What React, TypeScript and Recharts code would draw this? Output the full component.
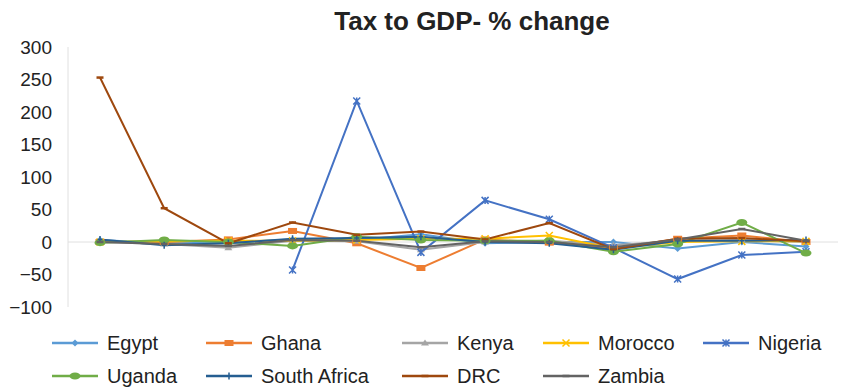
import { LineChart, Line, XAxis, YAxis, ReferenceLine } from "recharts";

const YEARS = ["2000", "2001", "2002", "2003", "2004", "2005", "2006", "2007", "2008", "2009", "2010", "2011"];
const Y_TICKS = [-100, -50, 0, 50, 100, 150, 200, 250, 300];

const EGYPT = [3, -2, -1, 4, 3, 12, -2, 0, 0, -10, 0, -7];
const GHANA = [0, 0, 4, 17, -2, -40, 4, -1, -10, 5, 10, 0];
const KENYA = [0, -3, -9, 2, 1, -12, 0, 2, -5, 2, 3, 0];
const MOROCCO = [0, 1, 2, 2, 3, 5, 5, 10, -10, 0, 1, 1];
const NIGERIA = [null, null, null, -43, 217, -16, 64, 35, -9, -57, -20, -15];
const UGANDA = [-1, 3, 0, -6, 8, 3, 2, 2, -15, -3, 30, -17];
const SOUTH_AFRICA = [4, -5, -2, 5, 6, 8, 0, -2, -12, 2, 2, 3];
const DRC = [253, 52, -2, 30, 11, 16, 4, 29, -11, 5, 6, 1];
const ZAMBIA = [0, -3, -6, 3, 2, -8, 1, 0, -8, 4, 20, 2];

type Shape = "diamond" | "square" | "triangle" | "x" | "star" | "circle" | "plus" | "dash";

const SERIES: { name: string; color: string; shape: Shape; values: (number | null)[] }[] = [
  { name: "Egypt", color: "#5B9BD5", shape: "diamond", values: EGYPT },
  { name: "Ghana", color: "#ED7D31", shape: "square", values: GHANA },
  { name: "Kenya", color: "#A5A5A5", shape: "triangle", values: KENYA },
  { name: "Morocco", color: "#FFC000", shape: "x", values: MOROCCO },
  { name: "Nigeria", color: "#4472C4", shape: "star", values: NIGERIA },
  { name: "Uganda", color: "#70AD47", shape: "circle", values: UGANDA },
  { name: "South Africa", color: "#255E91", shape: "plus", values: SOUTH_AFRICA },
  { name: "DRC", color: "#9E480E", shape: "dash", values: DRC },
  { name: "Zambia", color: "#636363", shape: "dash", values: ZAMBIA },
];

const FONT = "'Liberation Sans', Arial, sans-serif";
const W = 848;
const H = 387;
const TOP = 47;
const BOTTOM = 80;
const PLOT_H = H - TOP - BOTTOM;
const ZERO_Y = TOP + (300 / 400) * PLOT_H;

const rows = YEARS.map((year, i) => {
  const row: Record<string, string | number | null> = { year };
  for (const s of SERIES) row[s.name] = s.values[i];
  return row;
});

function Marker({ x, y, shape, color }: { x: number; y: number; shape: Shape; color: string }) {
  switch (shape) {
    case "diamond":
      return <path d={`M${x},${y - 3.5}L${x + 3.5},${y}L${x},${y + 3.5}L${x - 3.5},${y}Z`} fill={color} />;
    case "square":
      return <rect x={x - 4.5} y={y - 3} width={9} height={6} fill={color} />;
    case "triangle":
      return <path d={`M${x},${y - 3.5}L${x + 4},${y + 2.5}L${x - 4},${y + 2.5}Z`} fill={color} />;
    case "x":
      return (
        <path d={`M${x - 3.5},${y - 3.5}L${x + 3.5},${y + 3.5}M${x - 3.5},${y + 3.5}L${x + 3.5},${y - 3.5}`} stroke={color} strokeWidth={1.5} />
      );
    case "star":
      return (
        <path
          d={`M${x - 3.5},${y - 3.5}L${x + 3.5},${y + 3.5}M${x - 3.5},${y + 3.5}L${x + 3.5},${y - 3.5}M${x},${y - 3.5}L${x},${y + 3.5}`}
          stroke={color}
          strokeWidth={1.5}
        />
      );
    case "circle":
      return <ellipse cx={x} cy={y} rx={5.5} ry={3.5} fill={color} />;
    case "plus":
      return <path d={`M${x},${y - 3.5}L${x},${y + 3.5}M${x - 2.5},${y}L${x + 2.5},${y}`} stroke={color} strokeWidth={1.5} />;
    default:
      return <path d={`M${x - 3.5},${y}L${x + 3.5},${y}`} stroke={color} strokeWidth={2.5} />;
  }
}

const makeDot = (shape: Shape, color: string) => (props: any) => {
  const { cx, cy, index, value } = props;
  if (cx == null || cy == null || value == null) return <g key={index} />;
  return (
    <g key={index}>
      <Marker x={cx} y={cy} shape={shape} color={color} />
    </g>
  );
};

const YearTick = (props: any) => {
  const { x, payload } = props;
  return (
    <text x={x} y={ZERO_Y + 29} textAnchor="middle" fontSize={19} fill="#222" fontFamily={FONT}>
      {payload.value}
    </text>
  );
};

const fmtY = (v: number) => (v < 0 ? `\u2212${Math.abs(v)}` : `${v}`);

// legend is laid out in a fixed grid like the original
const LEGEND_COLS = [52, 206, 402, 543, 703];
const LEGEND_ROWS = [343, 376];

function ChartLegend() {
  return (
    <svg width={W} height={H} style={{ position: "absolute", left: 0, top: 0, pointerEvents: "none" }}>
      {SERIES.map((s, i) => {
        const x = LEGEND_COLS[i % 5];
        const y = LEGEND_ROWS[Math.floor(i / 5)];
        return (
          <g key={s.name}>
            <line x1={x} x2={x + 46} y1={y} y2={y} stroke={s.color} strokeWidth={2.5} />
            <Marker x={x + 23} y={y} shape={s.shape} color={s.color} />
            <text x={x + 55} y={y + 7} fontSize={20} fill="#222" fontFamily={FONT}>
              {s.name}
            </text>
          </g>
        );
      })}
    </svg>
  );
}

export default function App() {
  return (
    <div style={{ position: "absolute", left: 0, top: 0, width: W, height: H, background: "#fff" }}>
      <LineChart width={W} height={H} data={rows} margin={{ top: TOP, right: 10, bottom: BOTTOM, left: 0 }}>
        <text x={472} y={30} textAnchor="middle" fontSize={26} fontWeight="bold" fill="#222" fontFamily={FONT}>
          Tax to GDP- % change
        </text>
        <XAxis
          dataKey="year"
          height={0}
          axisLine={false}
          tickLine={false}
          padding={{ left: 32, right: 32 }}
          tick={<YearTick />}
          interval={0}
        />
        <YAxis
          width={68}
          domain={[-100, 300]}
          ticks={Y_TICKS}
          tickFormatter={fmtY}
          axisLine={{ stroke: "#e0e0e0" }}
          tickLine={false}
          tick={{ fontSize: 19, fill: "#222", fontFamily: FONT }}
          tickMargin={10}
        />
        <ReferenceLine y={0} stroke="#e0e0e0" />
        {SERIES.map((s) => (
          <Line
            key={s.name}
            dataKey={s.name}
            stroke={s.color}
            strokeWidth={2}
            dot={makeDot(s.shape, s.color)}
            activeDot={false}
            isAnimationActive={false}
          />
        ))}
      </LineChart>
      <ChartLegend />
    </div>
  );
}
